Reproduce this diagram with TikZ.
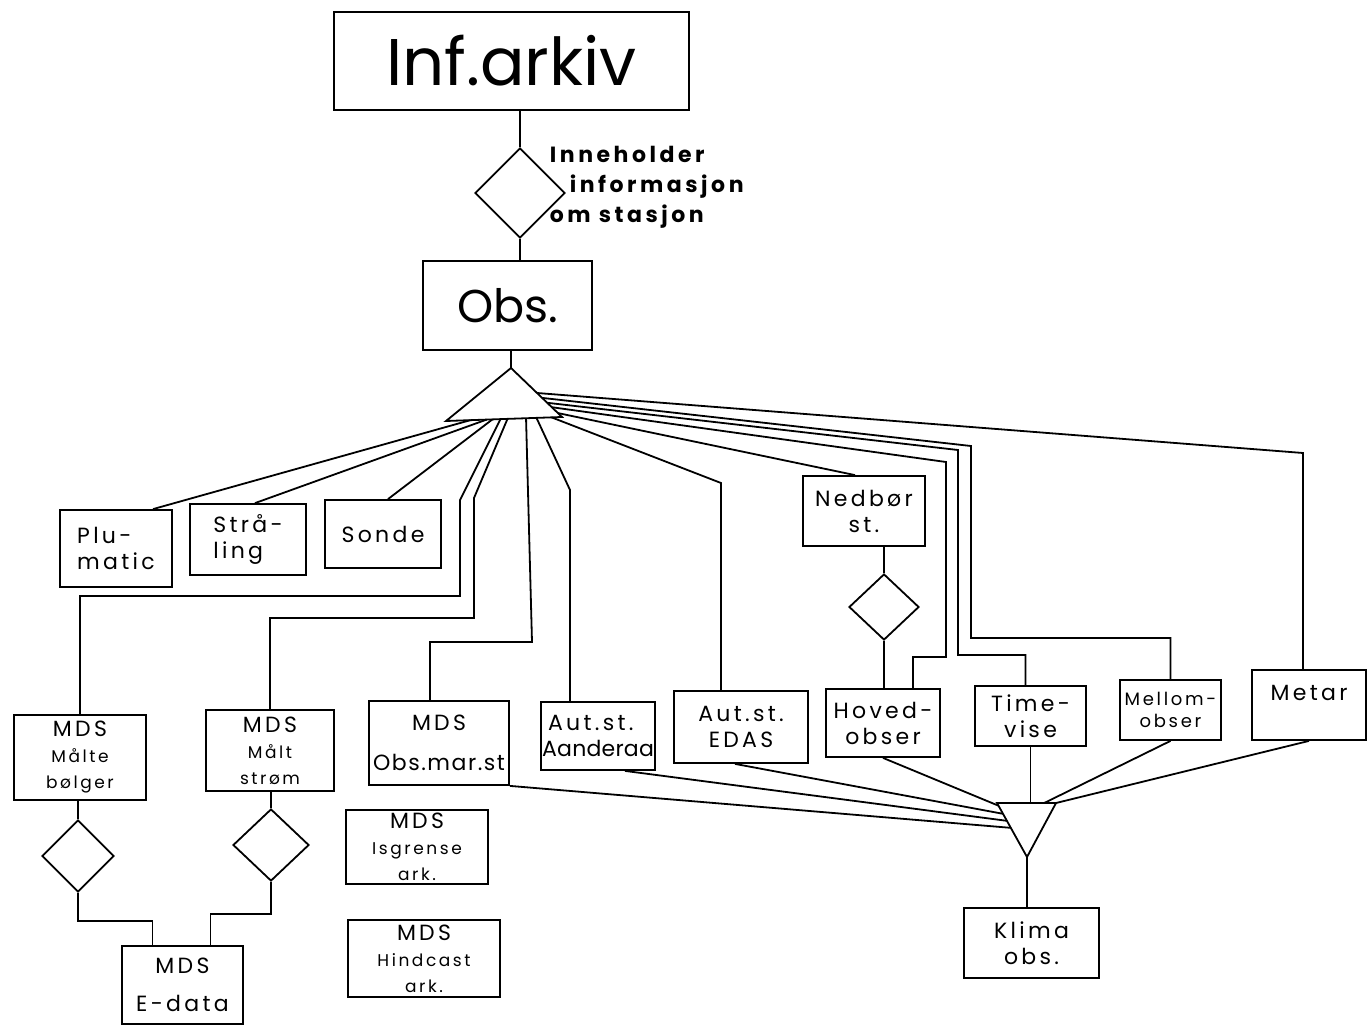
\documentclass[tikz,border=0pt]{standalone}
\usepackage{fontspec}
\setmainfont{Poppins}
\newfontfamily\boxfont{Poppins}[LetterSpace=15]
\newfontfamily\labelfont{Poppins}[LetterSpace=16]
\newcommand\smalltxt{\fontsize{8.5}{10}\selectfont}
\usetikzlibrary{shapes.geometric,calc}

\begin{document}
\begin{tikzpicture}[x=.5pt,y=-.5pt,line width=.9pt,
  box/.style={draw,align=center,inner sep=1pt,font=\boxfont\fontsize{11}{13}\selectfont},
  rel/.style={draw,diamond,inner sep=0pt}]
\path[use as bounding box] (0,0) rectangle (1369,1027);
% top of the tree
\node[box,minimum width=177.5pt,minimum height=49pt,font=\fontsize{33}{36}\selectfont] (inf) at (511.5,61) {Inf.arkiv};
\node[rel,minimum width=45pt,minimum height=45pt] (has) at (520,193) {};
\node[anchor=north west,align=left,inner sep=0pt,font=\labelfont\bfseries\fontsize{11}{15}\selectfont] (hastxt) at (549,145) {Inneholder\\\hspace*{10pt}informasjon\\om stasjon};
\node[box,minimum width=84.5pt,minimum height=44.5pt,font=\fontsize{23}{26}\selectfont] (obs) at (507.5,305.5) {Obs.};
\coordinate (spa) at (511,368);
\coordinate (spl) at (446,421);
\coordinate (spr) at (562,417);
\draw (spa) -- (spl) -- (spr) -- cycle;
\draw (has.north) -- (has.north |- inf.south);
\draw (has.south) -- (has.south |- obs.north);
\draw (spa) -- (spa |- obs.south);
% station types
\node[box,minimum width=56pt,minimum height=38.5pt,align=left] (plu) at (116,548.5) {Plu-\\matic};
\node[box,minimum width=58pt,minimum height=35.5pt,align=left] (stra) at (248,539.5) {Strå-\\ling};
\node[box,minimum width=58pt,minimum height=34pt] (sonde) at (383,534) {Sonde};
\node[box,minimum width=66pt,minimum height=42.5pt] (bolger) at (80,757.5) {MDS\\\smalltxt Målte\\\smalltxt bølger};
\node[box,minimum width=64pt,minimum height=40.5pt] (strom) at (270,750.5) {MDS\\\smalltxt Målt\\\smalltxt strøm};
\node[box,minimum width=70pt,minimum height=42pt] (obsmar) at (439,743) {MDS\\[7pt]\addfontfeature{LetterSpace=7}Obs.mar.st};
\node[box,minimum width=57pt,minimum height=34pt,align=left,inner sep=0pt] (aand) at (598,736) {\hspace*{3pt}Aut.st.\\\addfontfeature{LetterSpace=1}Aanderaa};
\node[box,minimum width=67pt,minimum height=36pt] (edas) at (741,727) {Aut.st.\\EDAS};
\node[box,minimum width=61pt,minimum height=35pt] (nedbor) at (864,511) {Nedbør\\st.};
\node[box,minimum width=57pt,minimum height=34pt] (hoved) at (883,723) {Hoved-\\obser};
\node[box,minimum width=55.5pt,minimum height=30pt] (time) at (1030.5,716) {Time-\\vise};
\node[box,minimum width=50.5pt,minimum height=30pt,font=\boxfont\fontsize{9}{11}\selectfont] (mellom) at (1170.5,710) {Mellom-\\obser};
\node[box,minimum width=57pt,minimum height=35pt,text depth=12pt] (metar) at (1309,705) {Metar};
\node[box,minimum width=67.5pt,minimum height=35pt] (klima) at (1031.5,943) {Klima\\obs.};
\node[box,minimum width=71pt,minimum height=37pt] (isgr) at (417,847) {MDS\\\smalltxt Isgrense\\\smalltxt ark.};
\node[box,minimum width=76pt,minimum height=38.5pt] (hind) at (424,958.5) {MDS\\\smalltxt Hindcast\\\smalltxt ark.};
\node[box,minimum width=60.5pt,minimum height=39pt] (edata) at (182.5,985) {MDS\\[6pt]E-data};
\node[rel,minimum width=35pt,minimum height=33pt] (d2) at (884,607) {};
\node[rel,minimum width=36pt,minimum height=36pt] (d3) at (78,856) {};
\node[rel,minimum width=38pt,minimum height=36pt] (d4) at (271,845) {};
% lines out of the upper triangle
\draw ($(spl)!.21!(spr)$) -- ($(plu.north)+(37,0)$);
\draw ($(spl)!.35!(spr)$) -- ($(stra.north)+(7,0)$);
\draw ($(spl)!.40!(spr)$) -- ($(sonde.north)+(5,0)$);
\draw ($(spl)!.47!(spr)$) -- (460,500) -- (460,596) -| (bolger.north);
\draw ($(spl)!.53!(spr)$) -- (474,498) -- (474,618) -| (strom.north);
\draw ($(spl)!.69!(spr)$) -- (532,642) -| ($(obsmar.north)+(-9,0)$);
\draw ($(spl)!.78!(spr)$) -- (570,490) -- ($(aand.north)+(-28,0)$);
\draw ($(spl)!.91!(spr)$) -- (721,483) -- ($(edas.north)+(-20,0)$);
\draw ($(spa)!.92!(spr)$) -- ($(nedbor.north)+(-9,0)$);
\draw ($(spa)!.80!(spr)$) -- (946,462) -- (946,657) -| ($(hoved.north)+(30,0)$);
\draw ($(spa)!.71!(spr)$) -- (958,450) -- (958,655) -| ($(time.north)+(-5,0)$);
\draw ($(spa)!.61!(spr)$) -- (971,446) -- (971,638) -| (mellom.north);
\draw ($(spa)!.51!(spr)$) -- (1303,453) -- ($(metar.north)+(-6,0)$);
% lower triangle
\coordinate (kl) at (997,803);
\coordinate (kr) at (1056,803);
\coordinate (ka) at (1027,857);
\draw (kl) -- (kr) -- (ka) -- cycle;
\draw (obsmar.south east) -- ($(kl)!.46!(ka)$);
\draw ($(aand.south)+(27,0)$) -- ($(kl)!.33!(ka)$);
\draw ($(edas.south)+(-6,0)$) -- ($(kl)!.2!(ka)$);
\draw (hoved.south) -- ($(kl)!.05!(ka)$);
\draw (time.south) -- (time.south |- kl);
\draw (mellom.south) -- ($(kl)!.8!(kr)$);
\draw (metar.south) -- (kr);
\draw (ka) -- (ka |- klima.north);
% relations below
\draw (d2.north |- nedbor.south) -- (d2.north);
\draw (d2.south) -- (d2.south |- hoved.north);
\draw (d3.north |- bolger.south) -- (d3.north);
\draw (d3.south) -- ++(0,28) -| ($(edata.north)+(-30,0)$);
\draw (d4.north |- strom.south) -- (d4.north);
\draw (d4.south) -- ++(0,32) -| ($(edata.north)+(28,0)$);
\end{tikzpicture}
\end{document}
